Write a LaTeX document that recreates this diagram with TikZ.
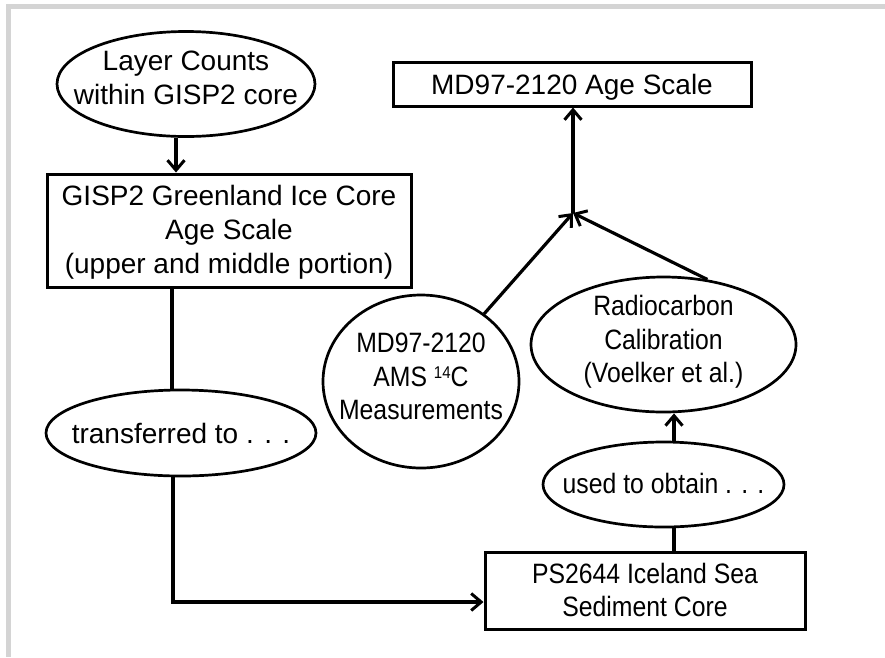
\documentclass[tikz,border=0pt]{standalone}
\usepackage{fontspec}
\setmainfont{Liberation Sans}
\newfontfamily\narrowfont{Liberation Sans}[FakeStretch=0.885]
\usetikzlibrary{shapes.geometric,arrows.meta}
\definecolor{framegray}{RGB}{212,212,212}
\begin{document}
\begin{tikzpicture}[x=1pt,y=-1pt,
  txt/.style={font=\fontsize{28}{34}\selectfont, align=center, inner sep=0pt},
  ntxt/.style={font=\narrowfont\fontsize{28}{33.5}\selectfont, align=center, inner sep=0pt},
  oval/.style={ellipse, draw, line width=2.7pt, inner sep=0pt},
  boxnode/.style={rectangle, draw, line width=3pt, inner sep=0pt},
  link/.style={line width=3.2pt},
  arr/.style={line width=3.2pt, -{Straight Barb[length=10pt,width=17pt,line width=3pt]}}
]
\useasboundingbox (0,0) rectangle (885,657);
\fill[framegray] (6,4) rectangle (885,9);
\fill[framegray] (6,4) rectangle (11,657);

\node[oval, minimum width=258pt, minimum height=105pt] (layer) at (186,84) {};
\node[txt] (layertext) at (186,77.5) {Layer Counts\\within GISP2 core};
\node[boxnode, minimum width=364pt, minimum height=113pt] (gisp) at (229,230.5) {};
\node[txt] (gisptext) at (229,232) {GISP2 Greenland Ice Core\\Age Scale\\(upper and middle portion)};
\node[oval, minimum width=270pt, minimum height=86pt] (trans) at (181,433) {};
\node[txt] (transtext) at (181,433) {transferred to . . .};
\node[boxnode, minimum width=358pt, minimum height=44pt] (age) at (572,84) {};
\node[txt] (agetext) at (572,87) {MD97-2120 Age Scale};
\node[oval, minimum width=196pt, minimum height=173pt] (md) at (421,381.5) {};
\node[ntxt] (mdtext) at (421,376.5) {MD97-2120\\AMS {\fontsize{17}{17}\selectfont\raisebox{8pt}{14}}C\\Measurements};
\node[oval, minimum width=265pt, minimum height=135pt] (radio) at (663.5,344.5) {};
\node[ntxt] (radiotext) at (663.5,342) {Radiocarbon\\Calibration\\(Voelker et al.)};
\node[oval, minimum width=241pt, minimum height=85pt] (used) at (663.5,484.5) {};
\node[ntxt] (usedtext) at (663.5,483) {used to obtain . . .};
\node[boxnode, minimum width=320pt, minimum height=77pt] (ps) at (645,590.5) {};
\node[ntxt] (pstext) at (645,590) {PS2644 Iceland Sea\\Sediment Core};
\coordinate (j) at (573,213);

\draw[arr] ([xshift=-10pt]layer.south) -- ([xshift=-10pt]layer.south |- gisp.north);
\draw[link] ([xshift=-57pt]gisp.south) -- ([xshift=-57pt]gisp.south |- trans.north);
\draw[arr] ([xshift=-8pt]trans.south) |- ([yshift=-11.5pt]ps.west);
\draw[link] ([xshift=29pt]ps.north) -- ([xshift=29pt]ps.north |- used.south);
\draw[arr] ([xshift=10.5pt]used.north) -- ([xshift=10.5pt]used.north |- radio.south);
\draw[arr] (md.47) -- (j);
\draw[arr] (radio.56) -- (j);
\draw[arr] (j) -- (j |- age.south);
\end{tikzpicture}
\end{document}
